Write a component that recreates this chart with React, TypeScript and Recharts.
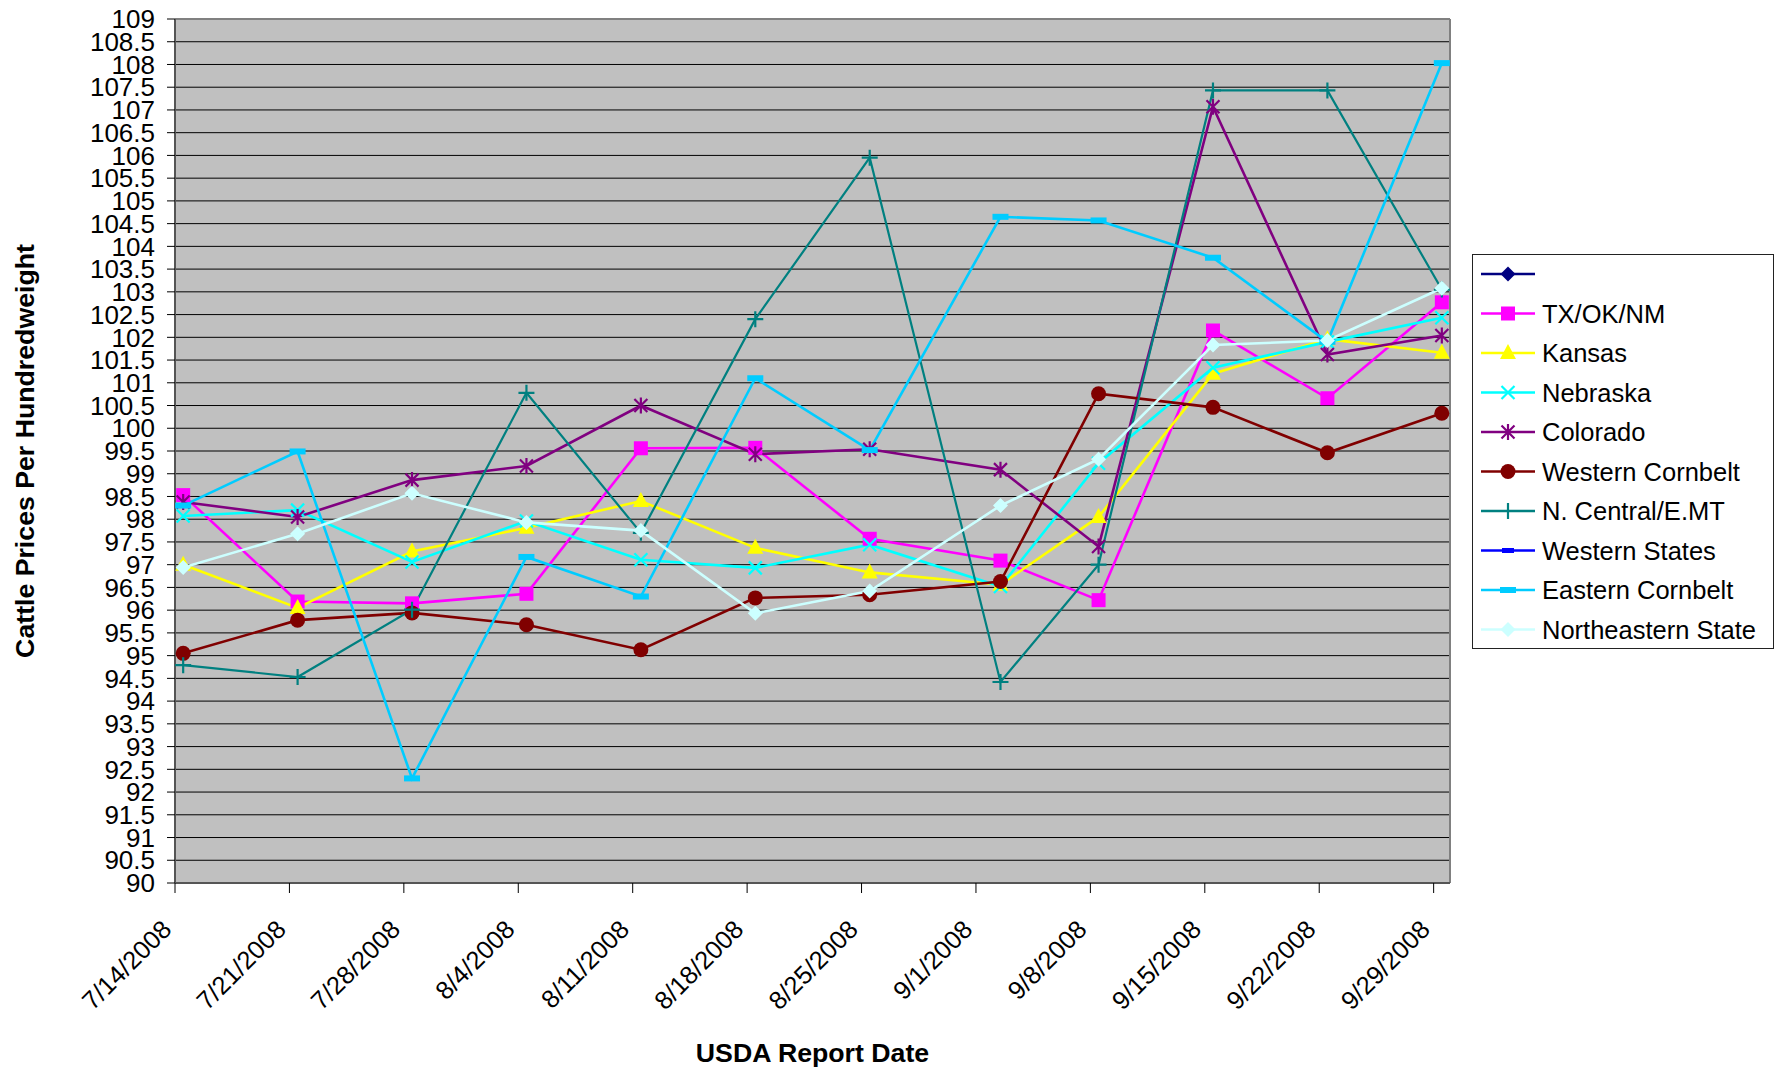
import React from 'react';
import { LineChart, Line, XAxis, YAxis, CartesianGrid, Legend, ReferenceLine } from 'recharts';

// ---------- data ----------
const reportDates = [
  '2008-07-14', '2008-07-21', '2008-07-28', '2008-08-04', '2008-08-11', '2008-08-18',
  '2008-08-25', '2008-09-02', '2008-09-08', '2008-09-15', '2008-09-22', '2008-09-29',
];
const tickLabels = [
  '7/14/2008', '7/21/2008', '7/28/2008', '8/4/2008', '8/11/2008', '8/18/2008',
  '8/25/2008', '9/1/2008', '9/8/2008', '9/15/2008', '9/22/2008', '9/29/2008',
];
const axisStartDate = '2008-07-14';
const axisEndDate = '2008-09-30';

const yTicks = [
  90, 90.5, 91, 91.5, 92, 92.5, 93, 93.5, 94, 94.5, 95, 95.5, 96, 96.5, 97, 97.5, 98, 98.5, 99, 99.5,
  100, 100.5, 101, 101.5, 102, 102.5, 103, 103.5, 104, 104.5, 105, 105.5, 106, 106.5, 107, 107.5, 108, 108.5, 109,
];

const blankSeries = [null, null, null, null, null, null, null, null, null, null, null, null];
const txOkNm = [98.53, 96.19, 96.15, 96.36, 99.56, 99.57, 97.57, 97.09, 96.22, 102.15, 100.66, 102.77];
const kansas = [97.0, 96.05, 97.29, 97.81, 98.4, 97.37, 96.83, 96.56, 98.05, 101.2, 101.96, 101.66];
const nebraska = [98.07, 98.2, 97.06, 97.96, 97.11, 96.93, 97.44, 96.52, 99.23, 101.33, 101.9, 102.43];
const colorado = [98.38, 98.05, 98.86, 99.17, 100.5, 99.43, 99.54, 99.09, 97.4, 107.07, 101.62, 102.04];
const westernCornbelt = [95.05, 95.78, 95.94, 95.68, 95.13, 96.27, 96.34, 96.63, 100.76, 100.46, 99.46, 100.33];
const nCentralEMT = [94.79, 94.53, 96.01, 100.78, 97.7, 102.4, 105.95, 94.42, 97.0, 107.43, 107.43, 103.05];
const westernStates = [null, null, null, null, null, null, null, null, null, null, null, null];
const easternCornbelt = [98.3, 99.49, 92.3, 97.17, 96.3, 101.1, 99.52, 104.65, 104.57, 103.75, 101.9, 108.03];
const northeasternState = [96.94, 97.68, 98.57, 97.93, 97.75, 95.93, 96.42, 98.3, 99.32, 101.83, 101.93, 103.08];

const seriesNames = [
  '', 'TX/OK/NM', 'Kansas', 'Nebraska', 'Colorado', 'Western Cornbelt',
  'N. Central/E.MT', 'Western States', 'Eastern Cornbelt', 'Northeastern State',
];
const seriesValues = [
  blankSeries, txOkNm, kansas, nebraska, colorado, westernCornbelt,
  nCentralEMT, westernStates, easternCornbelt, northeasternState,
];
const seriesColors = [
  '#000080', '#FF00FF', '#FFFF00', '#00FFFF', '#800080', '#800000',
  '#008080', '#0000FF', '#00CCFF', '#CCFFFF',
];
const seriesMarkers = [
  'diamond', 'square', 'triangle', 'x', 'star', 'circle',
  'plus', 'smalldash', 'dash', 'diamond',
];

// ---------- derived ----------
const DAY = 86400000;
const dayOf = (iso: string) => Math.round((Date.parse(iso) - Date.parse(axisStartDate)) / DAY);
const parseLabel = (s: string) => {
  const [m, d, y] = s.split('/').map(Number);
  return Math.round((Date.UTC(y, m - 1, d) - Date.parse(axisStartDate)) / DAY);
};
const axisDays = dayOf(axisEndDate);
const xTicks = tickLabels.map(parseLabel);
const labelByDay: Record<number, string> = {};
tickLabels.forEach((l, i) => { labelByDay[xTicks[i]] = l; });

const rows = reportDates.map((d, i) => {
  const r: Record<string, number | null> = { day: dayOf(d) + 0.5 };
  seriesValues.forEach((vals, s) => { r['s' + s] = vals[i]; });
  return r;
});

const FONT = '"Liberation Sans", Arial, Helvetica, sans-serif';

// ---------- layout ----------
const W = 1782;
const H = 1070;
const PLOT_LEFT = 175;
const PLOT_TOP = 19;
const PLOT_RIGHT = 1450;
const PLOT_BOTTOM = 883;

function Marker({ shape, cx, cy, color }: { shape: string; cx: number; cy: number; color: string }) {
  switch (shape) {
    case 'diamond': {
      const r = 7.5;
      return <polygon points={`${cx},${cy - r} ${cx + r},${cy} ${cx},${cy + r} ${cx - r},${cy}`} fill={color} />;
    }
    case 'square':
      return <rect x={cx - 7} y={cy - 7} width={14} height={14} fill={color} />;
    case 'triangle':
      return <polygon points={`${cx},${cy - 9} ${cx + 8},${cy + 6} ${cx - 8},${cy + 6}`} fill={color} />;
    case 'x':
      return (
        <path d={`M${cx - 6.5},${cy - 6.5}L${cx + 6.5},${cy + 6.5}M${cx - 6.5},${cy + 6.5}L${cx + 6.5},${cy - 6.5}`}
          stroke={color} strokeWidth={2.2} fill="none" />
      );
    case 'star':
      return (
        <path d={`M${cx - 6.5},${cy - 6.5}L${cx + 6.5},${cy + 6.5}M${cx - 6.5},${cy + 6.5}L${cx + 6.5},${cy - 6.5}M${cx},${cy - 8}L${cx},${cy + 8}`}
          stroke={color} strokeWidth={2.2} fill="none" />
      );
    case 'circle':
      return <circle cx={cx} cy={cy} r={7.5} fill={color} />;
    case 'plus':
      return (
        <path d={`M${cx - 8},${cy}L${cx + 8},${cy}M${cx},${cy - 8}L${cx},${cy + 8}`}
          stroke={color} strokeWidth={2.2} fill="none" />
      );
    case 'dash':
      return <rect x={cx - 8} y={cy - 3} width={16} height={6} fill={color} />;
    case 'smalldash':
      return <rect x={cx - 6} y={cy - 2.5} width={12} height={5} fill={color} />;
    default:
      return null;
  }
}

const DateTick = (props: any) => {
  const { x, y, payload } = props;
  const ax = x - 2;
  const ay = y + 38;
  return (
    <text x={ax} y={ay} transform={`rotate(-45 ${ax} ${ay})`} textAnchor="end"
      fontSize={25.5} fontFamily={FONT} fill="#000">
      {labelByDay[payload.value] ?? ''}
    </text>
  );
};

const LegendBox = () => {
  const rowH = 39.5;
  return (
    <div style={{ width: 302, height: 395, border: '1px solid #222', background: '#fff', boxSizing: 'border-box' }}>
      <svg width={300} height={393} style={{ display: 'block' }}>
        {seriesNames.map((name, i) => {
          const cy = 19 + i * rowH;
          return (
            <g key={'lg' + i}>
              <line x1={8} x2={62} y1={cy} y2={cy} stroke={seriesColors[i]} strokeWidth={2.5} />
              <Marker shape={seriesMarkers[i]} cx={35} cy={cy} color={seriesColors[i]} />
              <text x={69} y={cy} dy="0.355em" fontSize={25.5} fontFamily={FONT} fill="#000">{name}</text>
            </g>
          );
        })}
      </svg>
    </div>
  );
};

export default function App() {
  return (
    <div style={{ position: 'absolute', left: 0, top: 0, width: W, height: H, background: '#fff' }}>
      <LineChart
        width={W}
        height={H}
        data={rows}
        margin={{ top: PLOT_TOP, right: W - PLOT_RIGHT, bottom: 0, left: 0 }}
      >
        <CartesianGrid vertical={false} horizontal={true} fill="#C0C0C0" stroke="#000" strokeWidth={1} strokeOpacity={1} />
        <XAxis
          dataKey="day"
          type="number"
          domain={[0, axisDays]}
          ticks={xTicks}
          interval={0}
          height={H - PLOT_BOTTOM}
          tickSize={10}
          tickMargin={0}
          tickLine={{ stroke: '#000', strokeWidth: 1 }}
          axisLine={{ stroke: '#555', strokeWidth: 2 }}
          tick={<DateTick />}
          label={() => (
            <text x={(PLOT_LEFT + PLOT_RIGHT) / 2} y={1062} textAnchor="middle" fontSize={26.7}
              fontWeight="bold" fontFamily={FONT} fill="#000">USDA Report Date</text>
          )}
        />
        <YAxis
          type="number"
          domain={[90, 109]}
          ticks={yTicks}
          interval={0}
          width={PLOT_LEFT}
          tickSize={8}
          tickMargin={12}
          tickLine={{ stroke: '#000', strokeWidth: 1 }}
          axisLine={{ stroke: '#555', strokeWidth: 2 }}
          tick={{ fontSize: 26, fontFamily: FONT, fill: '#000' }}
          tickFormatter={(v: number) => String(v)}
          label={() => (
            <text x={34} y={(PLOT_TOP + PLOT_BOTTOM) / 2} transform={`rotate(-90 34 ${(PLOT_TOP + PLOT_BOTTOM) / 2})`}
              textAnchor="middle" fontSize={26.7} fontWeight="bold" fontFamily={FONT} fill="#000">
              Cattle Prices Per Hundredweight
            </text>
          )}
        />
        <ReferenceLine x={axisDays} stroke="#808080" strokeWidth={2} />
        <ReferenceLine y={109} stroke="#808080" strokeWidth={2} />
        {seriesNames.map((name, i) => (
          <Line
            key={'s' + i}
            dataKey={'s' + i}
            name={name || ' '}
            stroke={seriesColors[i]}
            strokeWidth={i === 6 ? 2.2 : 2.6}
            isAnimationActive={false}
            activeDot={false}
            connectNulls={false}
            dot={(p: any) => {
              if (p.cx == null || p.cy == null || p.value == null) return <g key={`d${i}-${p.index}`} />;
              return (
                <g key={`d${i}-${p.index}`}>
                  <Marker shape={seriesMarkers[i]} cx={p.cx} cy={p.cy} color={seriesColors[i]} />
                </g>
              );
            }}
          />
        ))}
        <Legend
          layout="horizontal"
          verticalAlign="middle"
          align="center"
          content={() => <LegendBox />}
          wrapperStyle={{ left: 1472, top: 254, width: 302, height: 395 }}
        />
      </LineChart>
    </div>
  );
}
